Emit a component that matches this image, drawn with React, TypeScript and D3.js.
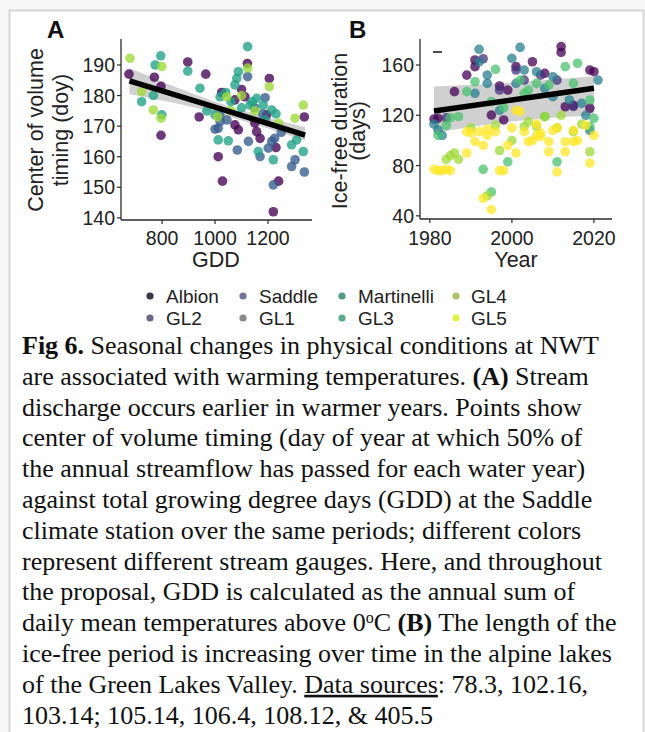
import React from "react";
import * as d3 from "d3";

// ---------- DATA ----------
const seriesNames = ["Albion", "GL2", "Saddle", "GL1", "Martinelli", "GL3", "GL4", "GL5"];
const seriesColors = ["#440154", "#46337E", "#365C8D", "#277F8E", "#1FA187", "#4AC16D", "#9FDA3A", "#FDE725"];
const legendColors = ["#3b3450", "#6b6889", "#75749a", "#8a8a8a", "#4f9a8a", "#5dab8c", "#a9c466", "#e2f244"];

// Panel A: [GDD, center of volume doy]
const albionA: [number, number][] = [
  [675, 187], [771, 186], [796, 183], [796, 167], [897, 191], [965, 187], [940, 173], [1025, 181],
  [1075, 178.6], [1113, 179.6], [1122, 190.5], [1205, 185.6], [1195, 173.7], [1075, 170.4], [1088, 168.8],
  [1157, 168.2], [1170, 166], [1012, 160], [1028, 152], [1240, 152], [1220, 142], [1337, 173], [1150, 171],
  [1100, 182], [1230, 163],
];
const saddleA: [number, number][] = [
  [1123, 186.2], [1189, 179.3], [1019, 171.5], [1012, 169.3], [1214, 165], [1084, 162.2], [1126, 165],
  [1201, 162.8], [1170, 160], [1220, 150.8], [1302, 159], [1289, 156.8], [1337, 155], [1045, 172],
  [1180, 174], [1000, 169], [1019, 173.3], [1225, 166], [1150, 176], [1250, 168],
];
const martinelliA: [number, number][] = [
  [795, 193], [774, 190], [723, 178], [767, 180], [799, 173.7], [897, 188], [943, 182.4], [969, 175],
  [1123, 196], [1088, 187.8], [1082, 185.6], [1075, 183.5], [1019, 179.6], [1157, 179.1], [1132, 176.9],
  [1182, 176.9], [1214, 175.3], [1000, 173.7], [1012, 165.5], [1050, 165.2], [1163, 161.7], [1220, 159],
  [1308, 165.5], [1333, 161.7], [1289, 163.9], [1060, 178], [1100, 176], [1040, 181], [1230, 174],
  [1140, 178], [1190, 172],
];
const gl4A: [number, number][] = [
  [679, 192.2], [799, 189.5], [723, 181.3], [767, 175.3], [796, 172.6], [1123, 189], [1205, 182.9],
  [1044, 179.6], [1333, 176.9], [1302, 172.6], [1150, 175], [1100, 180], [1010, 173], [1240, 171],
  [1060, 175],
];

// Panel B: [year, ice-free days]
const albionB: [number, number][] = [
  [1982, 117.6], [1981, 117], [1986, 138.8], [1989, 152], [1991, 158.7], [1991, 164], [1995, 120.2],
  [1997, 143.3], [1998, 116.3], [1999, 140.1], [2001, 158.7], [2005, 162.6], [2008, 153.4], [2012, 174.6],
  [2012, 170], [2013, 126.8], [2019, 156], [2020, 154.7], [2019, 125.6], [2015, 128],
];
const gl2B: [number, number][] = [
  [2001, 156], [2007, 152], [1997, 140], [2015, 127], [2011, 148], [1984, 118], [2003, 148], [1993, 165],
];
const gl1B: [number, number][] = [
  [1992, 172.5], [2002, 174], [2000, 165.3], [1992, 162.6], [1994, 152], [1994, 145.4], [2001, 145.4],
  [2003, 156], [2010, 150.7], [2008, 141.5], [2010, 134.8], [2014, 132.2], [2017, 129.5], [2021, 148],
  [1991, 137.5], [1982, 108.3], [1981, 113], [1983, 104], [2019, 108], [2018, 120], [1997, 124], [2006, 154.7],
];
const gl3B: [number, number][] = [
  [1996, 156.6], [1991, 146.7], [2002, 148], [2006, 145.4], [1989, 138.8], [2003, 137.5], [2015, 145.4],
  [2019, 132.2], [2020, 117.6], [2019, 111], [2016, 161.4], [2013, 158.7], [1987, 118.9], [1984, 112],
  [1985, 118], [1993, 77], [1995, 59], [1999, 83], [2011, 83], [2008, 118.9], [1995, 131], [2009, 144],
  [1998, 126], [2004, 140], [1982, 104],
];
const gl4B: [number, number][] = [
  [1984, 85], [1985, 88], [1986, 90], [1987, 85], [1997, 92], [2003, 111], [2012, 120], [2015, 107],
  [2019, 91], [1990, 110], [2000, 100], [2004, 115], [2011, 110], [1994, 56], [1996, 112], [2006, 111],
  [2017, 113], [2008, 119],
];
const gl5B: [number, number][] = [
  [1981, 77], [1982, 76], [1983, 76], [1984, 77], [1985, 76], [1990, 106], [1992, 107], [1991, 99],
  [1989, 90], [1993, 96], [1994, 104], [1997, 76], [1998, 76], [1999, 96], [1993, 54], [1995, 45],
  [1996, 107], [2001, 124], [2001, 90], [2003, 107], [2004, 99], [2006, 113], [2006, 104], [2007, 103],
  [2009, 99], [2009, 91], [2011, 75], [2011, 110], [2013, 99], [2013, 91], [2015, 99], [2019, 82],
  [2020, 104], [2000, 110], [2005, 100], [2018, 112], [2010, 108], [2016, 100], [2002, 123], [1989, 107],
  [1994, 109], [2007, 106], [2015, 108],
];

// Fitted trend + confidence band
const fitAx = [677, 1000, 1340];
const fitAy = [184.8, 176.2, 167.1];
const fitAlo = [180.5, 174.4, 165.2];
const fitAhi = [189.0, 178.0, 169.6];
const fitBx = [1981, 2000, 2020];
const fitBy = [123.4, 132.2, 141.5];
const fitBlo = [106, 115, 120];
const fitBhi = [143, 146, 151];

// Axis ticks
const ticksAx = [800, 1000, 1200];
const ticksAy = [140, 150, 160, 170, 180, 190];
const ticksBx = [1980, 2000, 2020];
const ticksBy = [40, 80, 120, 160];

const captionLines = [
  [{ t: "Fig 6.", b: true }, { t: " Seasonal changes in physical conditions at NWT" }],
  [{ t: "are associated with warming temperatures. " }, { t: "(A)", b: true }, { t: " Stream" }],
  [{ t: "discharge occurs earlier in warmer years. Points show" }],
  [{ t: "center of volume timing (day of year at which 50% of" }],
  [{ t: "the annual streamflow has passed for each water year)" }],
  [{ t: "against total growing degree days (GDD) at the Saddle" }],
  [{ t: "climate station over the same periods; different colors" }],
  [{ t: "represent different stream gauges. Here, and throughout" }],
  [{ t: "the proposal, GDD is calculated as the annual sum of" }],
  [{ t: "daily mean temperatures above 0" }, { t: "o", sup: true }, { t: "C " }, { t: "(B)", b: true }, { t: " The length of the" }],
  [{ t: "ice-free period is increasing over time in the alpine lakes" }],
  [{ t: "of the Green Lakes Valley. " }, { t: "Data sources", u: true }, { t: ": 78.3, 102.16," }],
  [{ t: "103.14; 105.14, 106.4, 108.12, & 405.5" }],
];

const sans = "'Liberation Sans', Arial, Helvetica, sans-serif";
const serif = "'Liberation Serif', 'Times New Roman', serif";

export default function App() {
  const xA = d3.scaleLinear().domain([645, 1366]).range([121, 312]);
  const yA = d3.scaleLinear().domain([139.3, 198.5]).range([220, 39]);
  const xB = d3.scaleLinear().domain([1977.6, 2024.4]).range([420, 612]);
  const yB = d3.scaleLinear().domain([37.5, 180.7]).range([219, 39]);

  const seriesA = [
    { name: "Albion", data: albionA },
    { name: "Saddle", data: saddleA },
    { name: "Martinelli", data: martinelliA },
    { name: "GL4", data: gl4A },
  ];
  const seriesB = [
    { name: "Albion", data: albionB },
    { name: "GL2", data: gl2B },
    { name: "GL1", data: gl1B },
    { name: "GL3", data: gl3B },
    { name: "GL4", data: gl4B },
    { name: "GL5", data: gl5B },
  ];
  const col = (n: string) => seriesColors[seriesNames.indexOf(n)];

  const idxA = fitAx.map((_, i) => i);
  const idxB = fitBx.map((_, i) => i);
  const areaA = d3.area<number>().x((i) => xA(fitAx[i])).y0((i) => yA(fitAlo[i])).y1((i) => yA(fitAhi[i])).curve(d3.curveMonotoneX);
  const lineA = d3.line<number>().x((i) => xA(fitAx[i])).y((i) => yA(fitAy[i]));
  const areaB = d3.area<number>().x((i) => xB(fitBx[i])).y0((i) => yB(fitBlo[i])).y1((i) => yB(fitBhi[i])).curve(d3.curveMonotoneX);
  const lineB = d3.line<number>().x((i) => xB(fitBx[i])).y((i) => yB(fitBy[i]));

  const axisColor = "#2b2b2b";
  const tickFont = 19.5;
  const titleFont = 21.5;

  // legend layout: column-major, 2 rows
  const legendColX = [150, 243, 342, 456];
  const legendTextX = [166, 259, 358, 471];
  const legendRowY = [296, 318];

  return (
    <div style={{ position: "absolute", left: 0, top: 0, width: 645, height: 732, background: "#f7f7f7" }}>
      <svg width={645} height={732} style={{ display: "block" }}>
        <rect x={0} y={0} width={645} height={732} fill="#f6f6f6" />
        <rect x={9.5} y={10.5} width={634} height={740} fill="#fefefe" stroke="#d6d6d6" strokeWidth={2} />

        {/* Panel labels */}
        <text x={47} y={38} fontFamily={sans} fontWeight="bold" fontSize={24} fill="#111">A</text>
        <text x={349} y={38} fontFamily={sans} fontWeight="bold" fontSize={24} fill="#111">B</text>

        {/* ---- Panel A ---- */}
        <g>
          <path d={areaA(idxA) || ""} fill="#9a9a9a" opacity={0.45} />
          {seriesA.map((s) =>
            s.data.map((d, i) => (
              <circle key={s.name + i} cx={xA(d[0])} cy={yA(d[1])} r={4.8} fill={col(s.name)} fillOpacity={0.78} />
            ))
          )}
          <path d={lineA(idxA) || ""} stroke="#000" strokeWidth={5.5} fill="none" />
          <line x1={121} x2={121} y1={39} y2={220} stroke={axisColor} strokeWidth={1.3} />
          <line x1={121} x2={312} y1={220} y2={220} stroke={axisColor} strokeWidth={1.3} />
          {ticksAy.map((t) => (
            <g key={"ay" + t}>
              <line x1={117} x2={121} y1={yA(t)} y2={yA(t)} stroke={axisColor} strokeWidth={1.2} />
              <text x={115} y={yA(t) + 7} textAnchor="end" fontFamily={sans} fontSize={tickFont} fill="#222">{t}</text>
            </g>
          ))}
          {ticksAx.map((t) => (
            <g key={"ax" + t}>
              <line x1={xA(t)} x2={xA(t)} y1={220} y2={224} stroke={axisColor} strokeWidth={1.2} />
              <text x={xA(t)} y={245} textAnchor="middle" fontFamily={sans} fontSize={tickFont} fill="#222">{t}</text>
            </g>
          ))}
          <text x={216} y={267} textAnchor="middle" fontFamily={sans} fontSize={titleFont} fill="#222">GDD</text>
          <text transform="translate(43,130) rotate(-90)" textAnchor="middle" fontFamily={sans} fontSize={titleFont} fill="#222">Center of volume</text>
          <text transform="translate(68,130) rotate(-90)" textAnchor="middle" fontFamily={sans} fontSize={titleFont} fill="#222">timing (doy)</text>
        </g>

        {/* ---- Panel B ---- */}
        <g>
          <path d={areaB(idxB) || ""} fill="#9a9a9a" opacity={0.45} />
          {seriesB.map((s) =>
            s.data.map((d, i) => (
              <circle key={s.name + i} cx={xB(d[0])} cy={yB(d[1])} r={4.8} fill={col(s.name)} fillOpacity={0.75} />
            ))
          )}
          <path d={lineB(idxB) || ""} stroke="#000" strokeWidth={5.5} fill="none" />
          <line x1={433} x2={442} y1={52} y2={52} stroke="#111" strokeWidth={1.5} />
          <line x1={420} x2={420} y1={39} y2={219} stroke={axisColor} strokeWidth={1.3} />
          <line x1={420} x2={612} y1={219} y2={219} stroke={axisColor} strokeWidth={1.3} />
          {ticksBy.map((t) => (
            <g key={"by" + t}>
              <line x1={416} x2={420} y1={yB(t)} y2={yB(t)} stroke={axisColor} strokeWidth={1.2} />
              <text x={414} y={yB(t) + 7} textAnchor="end" fontFamily={sans} fontSize={tickFont} fill="#222">{t}</text>
            </g>
          ))}
          {ticksBx.map((t) => (
            <g key={"bx" + t}>
              <line x1={xB(t)} x2={xB(t)} y1={219} y2={223} stroke={axisColor} strokeWidth={1.2} />
              <text x={xB(t)} y={245} textAnchor="middle" fontFamily={sans} fontSize={tickFont} fill="#222">{t}</text>
            </g>
          ))}
          <text x={516} y={267} textAnchor="middle" fontFamily={sans} fontSize={titleFont} fill="#222">Year</text>
          <text transform="translate(347,131) rotate(-90)" textAnchor="middle" fontFamily={sans} fontSize={titleFont} fill="#222">Ice-free duration</text>
          <text transform="translate(365,131) rotate(-90)" textAnchor="middle" fontFamily={sans} fontSize={titleFont} fill="#222">(days)</text>
        </g>

        {/* ---- Legend ---- */}
        {seriesNames.map((n, i) => {
          const c = Math.floor(i / 2);
          const r = i % 2;
          return (
            <g key={"lg" + n}>
              <circle cx={legendColX[c]} cy={legendRowY[r]} r={3.6} fill={legendColors[i]} />
              <text x={legendTextX[c]} y={legendRowY[r] + 7} fontFamily={sans} fontSize={19} fill="#222">{n}</text>
            </g>
          );
        })}

        {/* ---- Caption ---- */}
        {captionLines.map((line, li) => (
          <text key={"cap" + li} x={22} y={354 + li * 30.8} fontFamily={serif} fontSize={26} fill="#111">
            {line.map((s: any, si: number) => (
              <tspan
                key={si}
                fontWeight={s.b ? "bold" : "normal"}
                textDecoration={s.u ? "underline" : undefined}
                baselineShift={s.sup ? "super" : undefined}
                fontSize={s.sup ? 16 : undefined}
              >
                {s.t}
              </tspan>
            ))}
          </text>
        ))}
      </svg>
    </div>
  );
}
